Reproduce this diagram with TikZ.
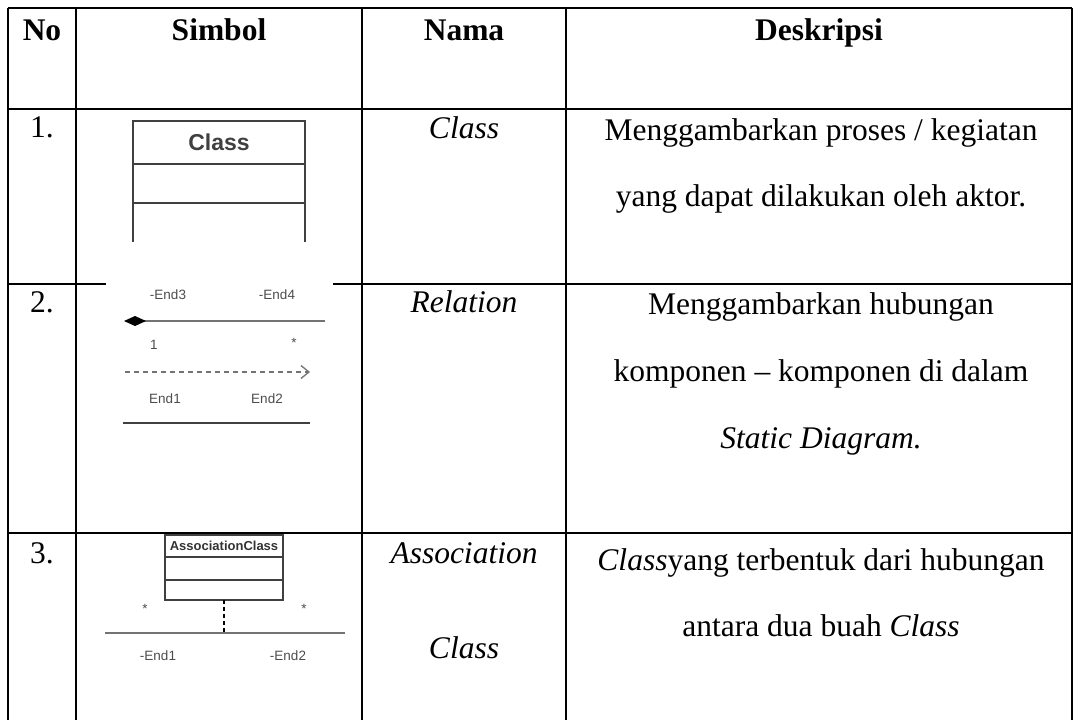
\documentclass[tikz,border=0pt]{standalone}
\usepackage{fontspec}
\setmainfont{Liberation Serif}
\setsansfont{Liberation Sans}
\usetikzlibrary{arrows.meta}

\tikzset{
	gridline/.style={color=black,line width=1.3pt},
	celltext/.style={anchor=base,inner sep=0pt,font=\fontsize{31.5}{38}\selectfont},
	headtext/.style={anchor=base,inner sep=0pt,font=\fontsize{31.5}{38}\selectfont\bfseries},
	umlbox/.style={color=black!75,line width=2pt},
	umlline/.style={color=black!55,line width=1.6pt},
	umltext/.style={inner sep=0pt,color=black!70,font=\sffamily\fontsize{13.5}{15}\selectfont},
}

\begin{document}
\begin{tikzpicture}[x=1pt,y=-1pt]
		\useasboundingbox (0,0) rectangle (1075,720);
		
		% table lines
		\draw[gridline] (8,8) -- (1072,8);
		\draw[gridline] (8,109) -- (1072,109);
		\draw[gridline] (8,284) -- (106,284);
		\draw[gridline] (333,284) -- (1072,284);
		\draw[gridline] (8,533) -- (1072,533);
		\foreach \x in {8,76,362,566,1072}
			\draw[gridline] (\x,8) -- (\x,720);
		
		% header
		\node[headtext] (hno) at (42,40) {No};
		\node[headtext] (hsimbol) at (219,40) {Simbol};
		\node[headtext] (hnama) at (464,40) {Nama};
		\node[headtext] (hdesk) at (819,40) {Deskripsi};
		
		% row 1
		\node[celltext] (no1) at (42,137) {1.};
		\node[celltext] (nama1) at (464,138) {\itshape Class};
		\node[celltext] (desk1a) at (821,140) {Menggambarkan proses / kegiatan};
		\node[celltext] (desk1b) at (821,206) {yang dapat dilakukan oleh aktor.};
		
		\draw[umlbox] (133,242) -- (133,121) -- (305,121) -- (305,242);
		\draw[umlbox] (133,164) -- +(172,0);
		\draw[umlbox] (133,203) -- +(172,0);
		\node[color=black!75,font=\sffamily\bfseries\fontsize{23}{26}\selectfont] (clsname) at (219,142) {Class};
		
		% row 2
		\node[celltext] (no2) at (42,312) {2.};
		\node[celltext] (nama2) at (464,312) {\itshape Relation};
		\node[celltext] (desk2a) at (821,314) {Menggambarkan hubungan};
		\node[celltext] (desk2b) at (821,381) {komponen – komponen di dalam};
		\node[celltext] (desk2c) at (821,448) {\itshape Static Diagram.};
		
		\node[umltext] (end3) at (168,295) {-End3};
		\node[umltext] (end4) at (277,295) {-End4};
		\coordinate (aggA) at (124,321);
		\coordinate (aggB) at (325,321);
		\draw[umlline,{Diamond[length=22pt,width=10pt,color=black,fill=black]}-] (aggA) -- (aggB);
		\node[umltext] (mult1) at (154,345) {1};
		\node[umltext] (mult2) at (294,343) {*};
		\coordinate (depA) at (125,372);
		\coordinate (depB) at (310,372);
		\draw[umlline,line width=1.3pt,dash pattern=on 5pt off 4pt,-{Straight Barb[length=8pt,width=13pt,line width=1.3pt]}] (depA) -- (depB);
		\node[umltext] (end1) at (165,399) {End1};
		\node[umltext] (end2) at (267,399) {End2};
		\coordinate (assA) at (123,423);
		\coordinate (assB) at (310,423);
		\draw[umlbox,line width=1.8pt] (assA) -- (assB);
		
		% row 3
		\node[celltext] (no3) at (42,563) {3.};
		\node[celltext] (nama3a) at (464,563) {\itshape Association};
		\node[celltext] (nama3b) at (464,658) {\itshape Class};
		\node[celltext] (desk3a) at (821,570) {\itshape Class\upshape yang terbentuk dari hubungan};
		\node[celltext] (desk3b) at (821,636) {antara dua buah \itshape Class};
		
		\draw[umlbox,line width=1.5pt] (165,535) rectangle (283,600);
		\draw[umlbox,line width=1.5pt] (165,557) -- +(118,0);
		\draw[umlbox,line width=1.5pt] (165,580) -- +(118,0);
		\node[color=black!80,font=\sffamily\bfseries\fontsize{13}{15}\selectfont] (acname) at (224,546) {AssociationClass};
		\coordinate (acfoot) at (224,600);
		\coordinate (aclink) at (224,633);
		\draw[color=black,line width=1.3pt,dash pattern=on 4pt off 3pt] (acfoot) -- (aclink);
		\coordinate (lineA) at (105,633);
		\coordinate (lineB) at (345,633);
		\draw[umlline,line width=2pt] (lineA) -- (lineB);
		\node[umltext] (mult3) at (145,609) {*};
		\node[umltext] (mult4) at (304,609) {*};
		\node[umltext] (end5) at (158,656) {-End1};
		\node[umltext] (end6) at (288,656) {-End2};
\end{tikzpicture}
\end{document}
